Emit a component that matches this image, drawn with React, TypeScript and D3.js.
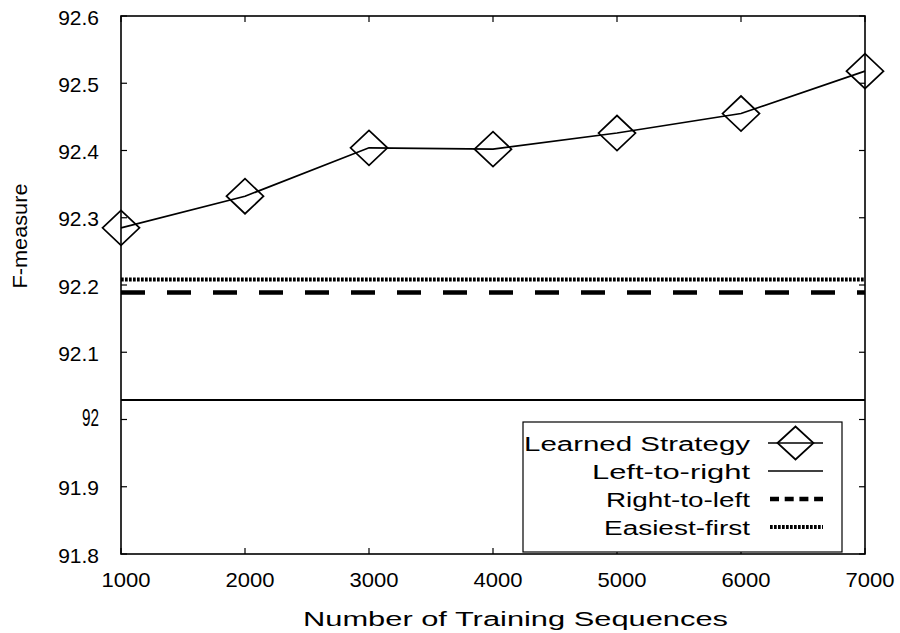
import React from "react";
import * as d3 from "d3";

// Number of training sequences used for the learned strategy
const trainingSizes = [1000, 2000, 3000, 4000, 5000, 6000, 7000];
// F-measure of the learned strategy at each training size
const learnedScores = [92.285, 92.332, 92.404, 92.402, 92.426, 92.455, 92.518];
// Fixed-order baselines (constant across training sizes)
const leftToRightScore = 92.029;
const rightToLeftScore = 92.189;
const easiestFirstScore = 92.208;

const xTicks = [1000, 2000, 3000, 4000, 5000, 6000, 7000];
const yTicks = [91.8, 91.9, 92.0, 92.1, 92.2, 92.3, 92.4, 92.5, 92.6];
const yTickLabels = ["91.8", "91.9", "92", "92.1", "92.2", "92.3", "92.4", "92.5", "92.6"];

const legendLabels = ["Learned Strategy", "Left-to-right", "Right-to-left", "Easiest-first"];
const legendLabelWidths = [226, 158, 144, 146];

const W = 900;
const H = 633;
const M = { left: 121, right: 865, top: 16, bottom: 554 };
const FONT = "'Liberation Sans', Arial, Helvetica, sans-serif";

function diamondPath(cx: number, cy: number, hw = 18.5, hh = 17.5) {
  return `M${cx - hw},${cy}L${cx},${cy - hh}L${cx + hw},${cy}L${cx},${cy + hh}Z`;
}

export default function App() {
  const x = d3.scaleLinear().domain([1000, 7000]).range([M.left, M.right]);
  const y = d3.scaleLinear().domain([91.8, 92.6]).range([M.bottom, M.top]);

  const line = d3
    .line<number>()
    .x((_, i) => x(trainingSizes[i]))
    .y((d) => y(d));

  const tickLen = 6;
  const legend = { x0: 523, y0: 422, x1: 842, y1: 552, textRight: 750, sx0: 768, sx1: 823, rowY: [443, 471, 499, 527] };

  return (
    <svg
      width={W}
      height={H}
      style={{ position: "absolute", left: 0, top: 0, background: "#fff" }}
      fontFamily={FONT}
    >
      <rect x={0} y={0} width={W} height={H} fill="#fff" />

      {/* ticks, inward, mirrored on opposite sides */}
      <g stroke="#000" strokeWidth={1.2}>
        {yTicks.map((t) => (
          <g key={`yt${t}`}>
            <line x1={M.left} x2={M.left + tickLen} y1={y(t)} y2={y(t)} />
            <line x1={M.right} x2={M.right - tickLen} y1={y(t)} y2={y(t)} />
          </g>
        ))}
        {xTicks.map((t) => (
          <g key={`xt${t}`}>
            <line x1={x(t)} x2={x(t)} y1={M.bottom} y2={M.bottom - tickLen} />
            <line x1={x(t)} x2={x(t)} y1={M.top} y2={M.top + tickLen} />
          </g>
        ))}
      </g>

      {/* y tick labels */}
      <g fontSize={21} fill="#000" textAnchor="end">
        {yTicks.map((t, i) =>
          yTickLabels[i] === "92" ? (
            <text key={`yl${t}`} x={99} y={y(t) + 6} fontSize={24} textLength={17} lengthAdjust="spacingAndGlyphs">
              {yTickLabels[i]}
            </text>
          ) : (
            <text key={`yl${t}`} x={99} y={y(t) + 8.5}>
              {yTickLabels[i]}
            </text>
          )
        )}
      </g>

      {/* x tick labels */}
      <g fontSize={21} fill="#000" textAnchor="middle">
        {xTicks.map((t) => (
          <text key={`xl${t}`} x={x(t) + 5} y={587} textLength={49} lengthAdjust="spacingAndGlyphs">
            {d3.format("d")(t)}
          </text>
        ))}
      </g>

      {/* axis titles */}
      <text x={303} y={626} fontSize={20} fill="#000" textLength={425} lengthAdjust="spacingAndGlyphs">
        Number of Training Sequences
      </text>
      <text
        transform="translate(27,236) rotate(-90)"
        fontSize={21}
        fill="#000"
        textAnchor="middle"
        textLength={105}
        lengthAdjust="spacingAndGlyphs"
      >
        F-measure
      </text>

      {/* baselines */}
      <line x1={M.left} x2={M.right} y1={y(leftToRightScore)} y2={y(leftToRightScore)} stroke="#000" strokeWidth={1.8} />
      <line
        x1={M.left}
        x2={M.right}
        y1={y(rightToLeftScore)}
        y2={y(rightToLeftScore)}
        stroke="#000"
        strokeWidth={4.5}
        strokeDasharray="24,22"
      />
      <line
        x1={M.left}
        x2={M.right}
        y1={y(easiestFirstScore)}
        y2={y(easiestFirstScore)}
        stroke="#000"
        strokeWidth={4}
        strokeDasharray="2.7,1.3"
      />

      {/* learned strategy */}
      <path d={line(learnedScores) ?? ""} fill="none" stroke="#000" strokeWidth={1.7} />
      {learnedScores.map((v, i) => (
        <path key={`m${i}`} d={diamondPath(x(trainingSizes[i]), y(v))} fill="none" stroke="#000" strokeWidth={1.7} />
      ))}

      {/* frame */}
      <rect
        x={M.left}
        y={M.top}
        width={M.right - M.left}
        height={M.bottom - M.top}
        fill="none"
        stroke="#000"
        strokeWidth={1.6}
      />

      {/* legend */}
      <rect
        x={legend.x0}
        y={legend.y0}
        width={legend.x1 - legend.x0}
        height={legend.y1 - legend.y0}
        fill="#fff"
        stroke="#000"
        strokeWidth={1.2}
      />
      <g fontSize={20} fill="#000" textAnchor="end">
        {legendLabels.map((lab, i) => (
          <text
            key={lab}
            x={legend.textRight}
            y={legend.rowY[i] + 7.5}
            textLength={legendLabelWidths[i]}
            lengthAdjust="spacingAndGlyphs"
          >
            {lab}
          </text>
        ))}
      </g>
      <line x1={legend.sx0} x2={legend.sx1} y1={legend.rowY[0]} y2={legend.rowY[0]} stroke="#000" strokeWidth={1.7} />
      <path d={diamondPath((legend.sx0 + legend.sx1) / 2, legend.rowY[0], 18, 16.5)} fill="none" stroke="#000" strokeWidth={1.7} />
      <line x1={legend.sx0} x2={legend.sx1} y1={legend.rowY[1]} y2={legend.rowY[1]} stroke="#000" strokeWidth={1.7} />
      <line
        x1={legend.sx0 + 2}
        x2={legend.sx1}
        y1={legend.rowY[2]}
        y2={legend.rowY[2]}
        stroke="#000"
        strokeWidth={4.5}
        strokeDasharray="9,5.7"
      />
      <line
        x1={legend.sx0 + 2}
        x2={legend.sx1}
        y1={legend.rowY[3]}
        y2={legend.rowY[3]}
        stroke="#000"
        strokeWidth={4}
        strokeDasharray="2.7,1.3"
      />
    </svg>
  );
}
